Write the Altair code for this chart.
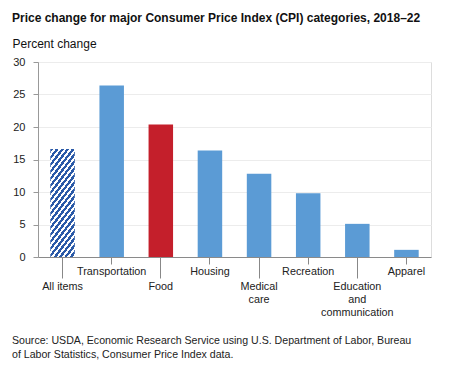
import altair as alt
import pandas as pd

categories = ["All items", "Transportation", "Food", "Housing", "Medical care",
              "Recreation", "Education and communication", "Apparel"]
values = [16.6, 26.4, 20.4, 16.4, 12.8, 9.8, 5.1, 1.1]
label_lines = [["All items"], ["Transportation"], ["Food"], ["Housing"], ["Medical", "care"],
               ["Recreation"], ["Education", "and", "communication"], ["Apparel"]]
upper_row = ["Transportation", "Housing", "Recreation", "Apparel"]
y_ticks = [0, 5, 10, 15, 20, 25, 30]
title_text = "Price change for major Consumer Price Index (CPI) categories, 2018–22"
y_title = "Percent change"
source_lines = ["Source: USDA, Economic Research Service using U.S. Department of Labor, Bureau",
                "of Labor Statistics, Consumer Price Index data."]

df = pd.DataFrame({"category": categories, "value": values})

BLUE = "#5b9bd5"
RED = "#c41f2b"
STRIPE = "#2b5aa8"
FONT = "Liberation Sans"

# diagonal stripe fill for "All items"
n_stripes = 20
stops = []
for i in range(n_stripes):
    a = i / n_stripes
    m = (i + 0.55) / n_stripes
    b = (i + 1) / n_stripes
    stops += [{"offset": a, "color": STRIPE}, {"offset": m, "color": STRIPE},
              {"offset": m, "color": "#ffffff"}, {"offset": b, "color": "#ffffff"}]
stripes = {"gradient": "linear", "x1": 0, "y1": 0, "x2": 0.354, "y2": 1.192, "stops": stops}

label_expr = ""
for cat, lines in zip(categories, label_lines):
    if len(lines) > 1:
        arr = "[" + ",".join("'" + s + "'" for s in lines) + "]"
        label_expr += f"datum.label == '{cat}' ? {arr} : "
label_expr += "datum.label"

upper_test = "indexof([" + ",".join("'" + s + "'" for s in upper_row) + "], datum.value) >= 0"

W, H = 393, 195

bars = alt.Chart(df).mark_bar(size=24.5).encode(
    x=alt.X("category:N", sort=categories, title=None,
            scale=alt.Scale(paddingInner=0.5, paddingOuter=0.25),
            axis=alt.Axis(labelAngle=0, labelExpr=label_expr, labelFont=FONT,
                          labelFontSize=10.8, labelColor="#222", labelLineHeight=13,
                          labelBaseline="top",
                          domainColor="#8a8a8a", tickColor="#888",
                          tickSize={"condition": {"test": upper_test, "value": 7}, "value": 21},
                          labelPadding={"condition": {"test": upper_test, "value": 1}, "value": 2})),
    y=alt.Y("value:Q", scale=alt.Scale(domain=[0, 30], nice=False),
            axis=alt.Axis(values=y_ticks, title=y_title, titleAngle=0, titleAlign="left",
                          titleBaseline="alphabetic", titleX=-26, titleY=-15,
                          titleFont=FONT, titleFontSize=12, titleFontWeight="normal",
                          titleColor="#111",
                          labelFont=FONT, labelFontSize=11, labelColor="#222",
                          tickSize=5, tickColor="#999", labelPadding=8,
                          domainColor="#999", gridColor="#ececec")),
    fill=alt.when(alt.datum.category == "All items").then(alt.value(stripes))
            .when(alt.datum.category == "Food").then(alt.value(RED))
            .otherwise(alt.value(BLUE)),
)

source = alt.Chart(pd.DataFrame({"note": [0]})).mark_text(
    text=source_lines, align="left", baseline="alphabetic", font=FONT,
    fontSize=10.6, lineHeight=14, color="#222"
).encode(x=alt.value(-26), y=alt.value(282))

chart = alt.layer(bars, source).properties(
    width=W, height=H,
    title=alt.TitleParams(text=title_text, anchor="start", frame="group", dx=-26,
                          font=FONT, fontSize=12, fontWeight="bold", color="#111",
                          offset=12),
    autosize=alt.AutoSizeParams(type="none"),
    padding={"left": 30, "top": 54, "right": 11, "bottom": 108},
).configure_view(stroke=None).configure(background="white")

chart.save("out.html", embed_options={"renderer": "svg", "actions": False})
